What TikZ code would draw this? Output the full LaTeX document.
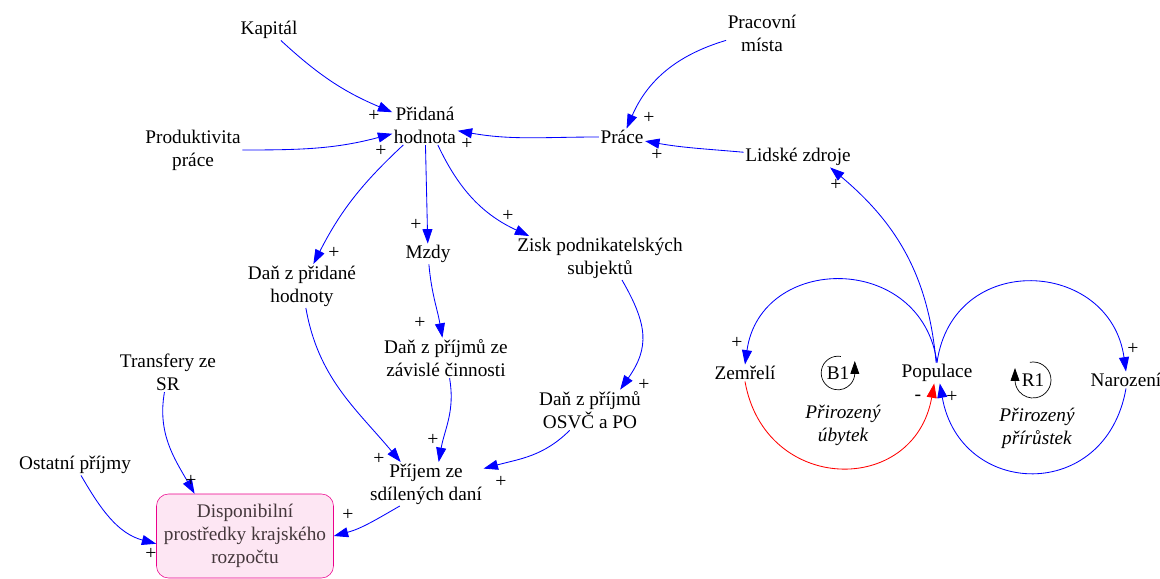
\documentclass[tikz,border=0pt]{standalone}
\usepackage{fontspec}
\setmainfont{Liberation Serif}
\usetikzlibrary{arrows.meta}

\begin{document}
\begin{tikzpicture}[
		var/.style={align=center, inner sep=1pt, font=\fontsize{13.7}{16.4}\selectfont},
		varit/.style={var, font=\fontsize{13.7}{16.4}\selectfont\itshape},
		lnk/.style={draw=blue, line width=0.6pt, -{Triangle[length=3.6mm,width=2.5mm]}},
		neg/.style={lnk, draw=red},
		sgn/.style={inner sep=0pt, font=\fontsize{14}{14}\selectfont},
		loopsym/.style={line width=0.5pt, -{Triangle[length=3.2mm,width=2.2mm]}},
	]
			%%%%% START %%%%%
			
			\useasboundingbox (0, 0) rectangle (29, 14.45);
			
			\node[var] (kapital) at (6.725, 13.7) {Kapitál};
			\node[var] (pridana) at (10.625, 11.325) {Přidaná\\hodnota};
			\node[var] (produkt) at (4.825, 10.7) {Produktivita\\práce};
			\node[var] (pracmista) at (19.05, 13.625) {Pracovní\\místa};
			\node[var] (prace) at (15.55, 11.025) {Práce};
			\node[var] (lidske) at (19.95, 10.525) {Lidské zdroje};
			
			\node[var] (danph) at (7.55, 7.3) {Daň z přidané\\hodnoty};
			\node[var] (mzdy) at (10.7, 8.1) {Mzdy};
			\node[var] (zisk) at (15.0, 8.0) {Zisk podnikatelských\\subjektů};
			\node[var] (danzav) at (11.15, 5.5) {Daň z příjmů ze\\závislé činnosti};
			\node[var] (osvc) at (14.75, 4.2) {Daň z příjmů\\OSVČ a PO};
			\node[var] (transfery) at (4.2, 5.15) {Transfery ze\\SR};
			\node[var] (ostatni) at (1.875, 2.825) {Ostatní příjmy};
			\node[var] (prijem) at (10.65, 2.35) {Příjem ze\\sdílených daní};
			\node[var, draw=magenta, fill=magenta!10, text=black!85!magenta, rounded corners=0.3cm, minimum width=4.425cm, minimum height=2.1cm] (disp) at (6.125, 1.05) {Disponibilní\\prostředky krajského\\rozpočtu};
			
			\node[var] (zemreli) at (18.625, 5.125) {Zemřelí};
			\node[var] (populace) at (23.425, 5.125) {Populace};
			\node[var] (narozeni) at (28.15, 4.95) {Narození};
			\node[var] (b1) at (20.95, 5.125) {B1};
			\node[var] (r1) at (25.825, 4.95) {R1};
			\node[varit] (ubytek) at (21.075, 3.825) {Přirozený\\úbytek};
			\node[varit] (prirustek) at (25.925, 3.75) {Přirozený\\přírůstek};
			
			\draw[loopsym] (b1.center) ++(80:0.42) arc[start angle=80, end angle=360, radius=0.42] -- ++(0, 0.3);
			\draw[loopsym] (r1.center) ++(100:0.45) arc[start angle=100, end angle=-180, radius=0.45] -- ++(0, 0.3);
			
			\draw[lnk] (kapital) to[bend right=10] (pridana);
			\draw[lnk] (produkt) to[out=0, in=195] (pridana);
			\draw[lnk] (prace) to[out=180, in=-10] (pridana);
			\draw[lnk] (pracmista) to[bend right=25] (prace);
			\draw[lnk] (lidske) to[out=175, in=-10] (prace);
			\draw[lnk] (populace) to[out=95, in=-40] (lidske.-18);
			
			\draw[lnk] (pridana) to[bend right=10] (danph);
			\draw[lnk] (pridana) -- (mzdy);
			\draw[lnk] (pridana) to[bend right=20] (zisk);
			\draw[lnk] (mzdy) to[out=-85, in=100] (danzav);
			\draw[lnk] (zisk.-45) to[out=-60, in=55, looseness=1.2] (osvc.34);
			
			\draw[lnk] (danph) to[out=-80, in=130] (prijem.139);
			\draw[lnk] (danzav) to[out=-80, in=80] (prijem.60);
			\draw[lnk] (osvc) to[out=-135, in=15] (prijem);
			\draw[lnk] (prijem.220) to[out=-150, in=15] (disp.east);
			\draw[lnk] (transfery) to[out=-100, in=120] (disp.140);
			\draw[lnk] (ostatni) to[out=-60, in=165] (disp.185);
			
			\draw[lnk] (populace.north) to[out=98, in=82, looseness=1.49] (zemreli.north);
			\draw[neg] (zemreli.south) to[out=-80, in=-100, looseness=1.55] ([xshift=-2pt]populace.south);
			\draw[lnk] (populace.north) to[out=82, in=98, looseness=1.54] (narozeni.north);
			\draw[lnk] (narozeni.south) to[out=-100, in=-80, looseness=1.6] ([xshift=2pt]populace.south);
			
			\node[sgn] (s1) at (9.35, 11.55) {+};
			\node[sgn] (s2) at (9.525, 10.675) {+};
			\node[sgn] (s3) at (11.675, 10.85) {+};
			\node[sgn] (s4) at (16.225, 11.5) {+};
			\node[sgn] (s5) at (16.425, 10.575) {+};
			\node[sgn] (s6) at (20.9, 9.825) {+};
			\node[sgn] (s7) at (8.35, 8.125) {+};
			\node[sgn] (s8) at (10.4, 8.825) {+};
			\node[sgn] (s9) at (12.7, 9.05) {+};
			\node[sgn] (s10) at (10.5, 6.375) {+};
			\node[sgn] (s11) at (16.1, 4.825) {+};
			\node[sgn] (s12) at (9.475, 2.975) {+};
			\node[sgn] (s13) at (10.825, 3.45) {+};
			\node[sgn] (s14) at (12.525, 2.4) {+};
			\node[sgn] (s15) at (8.7, 1.575) {+};
			\node[sgn] (s16) at (4.775, 2.425) {+};
			\node[sgn] (s17) at (3.775, 0.6) {+};
			\node[sgn] (s18) at (18.425, 5.875) {+};
			\node[sgn] (s19) at (22.95, 4.5) {-};
			\node[sgn] (s20) at (28.325, 5.725) {+};
			\node[sgn] (s21) at (23.8, 4.525) {+};
			
			%%%%% END %%%%%
\end{tikzpicture}
\end{document}
